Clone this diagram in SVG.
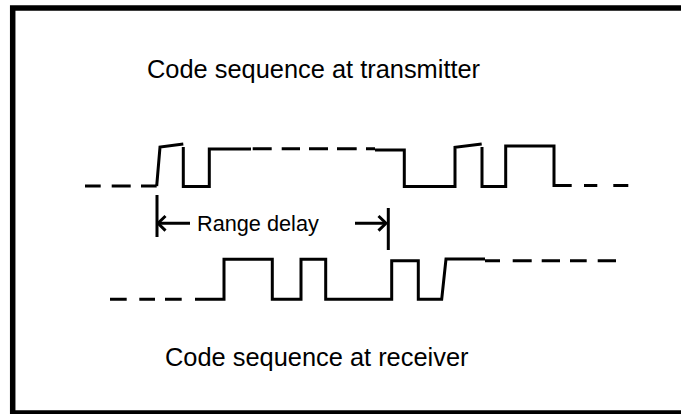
<svg xmlns="http://www.w3.org/2000/svg" width="681" height="414" viewBox="0 0 681 414">
<style>
.w{fill:none;stroke:#000;stroke-width:3;stroke-linejoin:miter;stroke-linecap:butt}
.d{fill:none;stroke:#000;stroke-width:3}
.t{font-family:"Liberation Sans",Arial,sans-serif;fill:#000}
</style>
<rect x="12.7" y="8" width="700" height="405" fill="#fff" stroke="#000" stroke-width="5.5"/>
<g id="title-tx"><text class="t" x="147" y="78" font-size="25.4">Code sequence at transmitter</text></g>
<g id="title-rx"><text class="t" x="165" y="366" font-size="25.4">Code sequence at receiver</text></g>
<g id="tx-wave">
<path class="d" d="M85 186H100.7M111.7 186H130.7M141 186H156.7"/>
<path class="w" d="M156.7 186L160 147L183.3 144"/>
<path class="w" d="M183.3 147V186.5H209.3V149H251"/>
<path class="d" d="M252.7 148.7H271.7M281.7 148.7H300M309 148.7H328M337 148.7H356.7M366 148.7H375"/>
<path class="w" d="M375 150H404.3V186.5H455V147.3L481.7 144"/>
<path class="w" d="M482 147V186.5H505.7V146H554V185.5H571.7"/>
<path class="d" d="M584 185.5H597.3M613.3 185.5H628.3"/>
</g>
<g id="range-delay">
<path class="d" d="M157 195V237M388.3 208V250"/>
<path class="d" d="M158 223.3H190M355 223.3H386"/>
<path class="w" d="M165.5 216L158 223.3L165.5 230.6M378.5 216L386 223.3L378.5 230.6"/>
<text class="t" x="197" y="230.7" font-size="21.7">Range delay</text>
</g>
<g id="rx-wave">
<path class="d" d="M110 299.3H126.7M139.3 299.3H155M165 299.3H181.7M195 299.3H200"/>
<path class="w" d="M200 299.3H224V259.3H272.3V299.3H301V259.3H325.7V299.3H391.7V260.7H418.3V299.3H441.7L446 259H485"/>
<path class="d" d="M485 260.7H500M512.7 260.7H531.7M541.7 260.7H560M570 260.7H586.7M597.7 260.7H616"/>
</g>
</svg>
